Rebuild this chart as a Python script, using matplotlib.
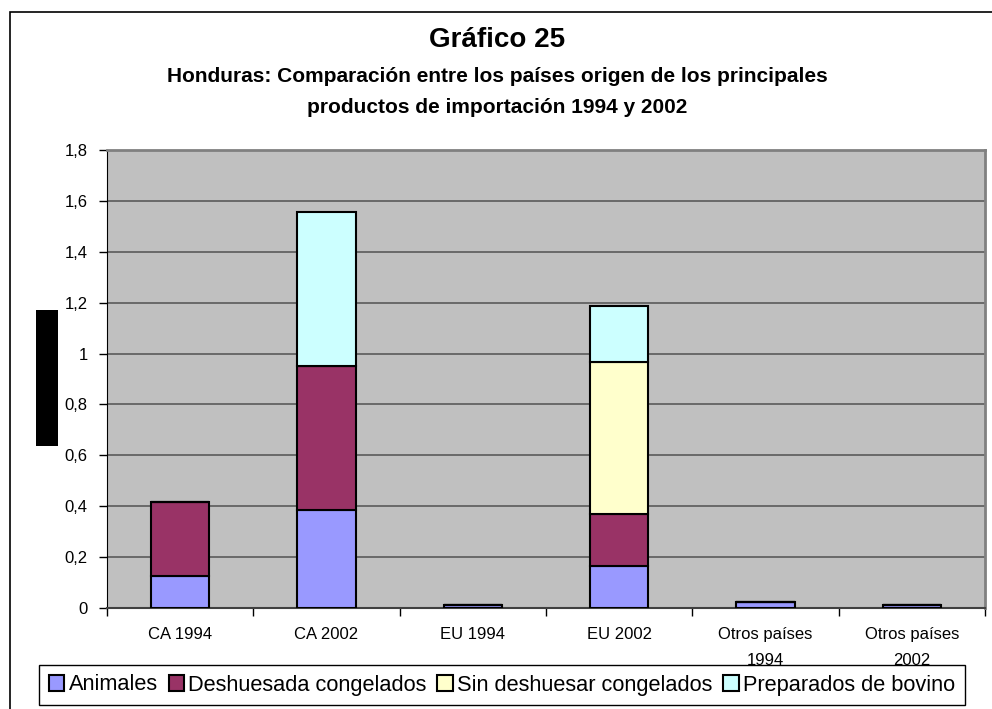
import matplotlib.pyplot as plt
from matplotlib.patches import Rectangle
from matplotlib.ticker import FuncFormatter
import numpy as np

plt.rcParams['font.family'] = ['Liberation Sans', 'DejaVu Sans']

categories = ['CA 1994', 'CA 2002', 'EU 1994', 'EU 2002', 'Otros países\n1994', 'Otros países\n2002']
series_names = ['Animales', 'Deshuesada congelados', 'Sin deshuesar congelados', 'Preparados de bovino']
animales = [0.125, 0.385, 0.012, 0.165, 0.025, 0.012]
deshuesada = [0.29, 0.566, 0.0, 0.205, 0.0, 0.0]
sin_deshuesar = [0.0, 0.0, 0.0, 0.598, 0.0, 0.0]
preparados = [0.0, 0.606, 0.0, 0.22, 0.0, 0.0]
colors = ['#9999FF', '#993366', '#FFFFCC', '#CCFFFF']

fig = plt.figure(figsize=(9.92, 7.09), dpi=100)
W, H = 992, 709

# outer chart border (runs off the right/bottom edges)
fig.patches.append(Rectangle((10 / W, -0.1), 1.2, 1 - 12 / H + 0.1, transform=fig.transFigure,
                             fill=False, edgecolor='black', linewidth=1.2))
# black box where the y-axis title would be
fig.patches.append(Rectangle((36 / W, 1 - 446 / H), 22 / W, 136 / H, transform=fig.transFigure,
                             facecolor='black', edgecolor='none'))

ax = fig.add_axes([107 / W, 1 - 608 / H, (985 - 107) / W, (608 - 150) / H])
ax.set_facecolor('#C0C0C0')

x = np.arange(len(categories))
bottom = np.zeros(len(categories))
for vals, name, c in zip([animales, deshuesada, sin_deshuesar, preparados], series_names, colors):
    vals = np.array(vals)
    ax.bar(x, vals, 0.4, bottom=bottom, color=c, edgecolor='black', linewidth=1.5, label=name, zorder=3)
    bottom += vals

ax.set_xlim(-0.5, len(categories) - 0.5)
ax.set_ylim(0, 1.8)
ax.set_yticks(np.arange(0, 1.81, 0.2))
ax.yaxis.set_major_formatter(FuncFormatter(lambda v, p: ('%g' % round(v, 1)).replace('.', ',')))
ax.grid(axis='y', color='#5a5a5a', linewidth=1.2, zorder=1)
ax.set_axisbelow(True)

ax.set_xticks(x)
ax.set_xticklabels(categories, fontsize=12)
ax.set_xticks(np.arange(-0.5, len(categories), 1), minor=True)
ax.tick_params(axis='x', which='major', length=0, pad=14)
ax.tick_params(axis='x', which='minor', length=6, width=1, color='black')
ax.tick_params(axis='y', length=6, width=1, labelsize=12, pad=8)
for lab in ax.get_xticklabels():
    lab.set_linespacing(1.85)

ax.spines['left'].set_color('black')
ax.spines['bottom'].set_color('#404040')
ax.spines['bottom'].set_linewidth(1.5)
ax.spines['top'].set_color('#808080')
ax.spines['top'].set_linewidth(2)
ax.spines['right'].set_color('#808080')
ax.spines['right'].set_linewidth(2)

fig.text(497 / W, 1 - 47 / H, 'Gráfico 25', ha='center', va='baseline', fontsize=20, fontweight='bold')
fig.text(497 / W, 1 - 82 / H, 'Honduras: Comparación entre los países origen de los principales',
         ha='center', va='baseline', fontsize=15, fontweight='bold')
fig.text(497 / W, 1 - 113 / H, 'productos de importación 1994 y 2002',
         ha='center', va='baseline', fontsize=15, fontweight='bold')

leg = fig.legend(loc='center', bbox_to_anchor=(502 / W, 1 - 685 / H), ncol=4, fontsize=15.7,
                 frameon=True, fancybox=False, edgecolor='black', framealpha=1,
                 handlelength=0.7, handleheight=0.7, handletextpad=0.2, columnspacing=0.5,
                 borderpad=0.45, borderaxespad=0)
leg.get_frame().set_linewidth(1)
leg.set_zorder(10)

fig.savefig('out.png', dpi=100)
